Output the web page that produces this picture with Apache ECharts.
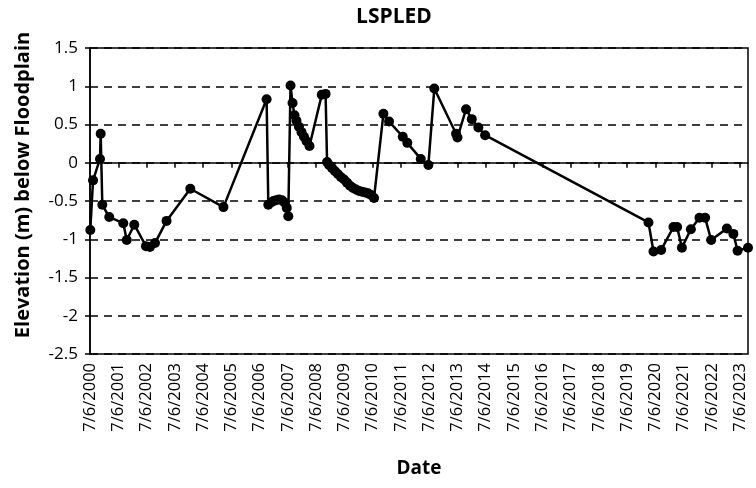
<html>
<head>
    <meta charset="utf-8">
    <script src="https://cdn.jsdelivr.net/npm/echarts@6/dist/echarts.min.js"></script>
</head>
<body style="margin:0">
<div id="main" style="width:756px;height:488px"></div>
<script>
    // sample dates and elevations
    var sampleDates = [
        '2000-07-10', '2000-08-14', '2000-11-12', '2000-11-21', '2000-12-12', '2001-03-12',
        '2001-09-09', '2001-10-24', '2002-01-29', '2002-06-29', '2002-08-19', '2002-10-24',
        '2003-03-22', '2004-01-23', '2005-03-26', '2006-10-05', '2006-10-27', '2006-12-01',
        '2007-01-02', '2007-02-04', '2007-03-14', '2007-04-22', '2007-05-24', '2007-06-22',
        '2007-07-12', '2007-08-10', '2007-09-05', '2007-09-30', '2007-10-26', '2007-11-27',
        '2007-12-30', '2008-01-31', '2008-03-04', '2008-04-11', '2008-09-17', '2008-11-05',
        '2008-11-24', '2008-12-20', '2009-01-28', '2009-03-07', '2009-04-15', '2009-05-24',
        '2009-07-02', '2009-08-09', '2009-09-17', '2009-10-26', '2009-12-03', '2010-01-12',
        '2010-02-19', '2010-03-30', '2010-05-08', '2010-06-15', '2010-07-24', '2010-11-22',
        '2011-02-03', '2011-07-30', '2011-09-27', '2012-03-19', '2012-06-25', '2012-09-10',
        '2013-06-18', '2013-07-06', '2013-10-25', '2014-01-07', '2014-04-02', '2014-06-28',
        '2020-04-08', '2020-06-12', '2020-09-19', '2021-02-25', '2021-04-13', '2021-06-14',
        '2021-10-08', '2022-01-27', '2022-04-10', '2022-06-27', '2023-01-16', '2023-04-10',
        '2023-06-03', '2023-10-16'
    ];
    var elevation = [
        -0.88, -0.23, 0.05, 0.38, -0.55, -0.71,
        -0.79, -1.01, -0.81, -1.09, -1.10, -1.05,
        -0.76, -0.34, -0.58, 0.83, -0.55, -0.52,
        -0.50, -0.49, -0.48, -0.49, -0.52, -0.59,
        -0.70, 1.01, 0.78, 0.62, 0.55, 0.47,
        0.40, 0.34, 0.28, 0.22, 0.89, 0.90,
        0.01, -0.03, -0.07, -0.11, -0.15, -0.19,
        -0.22, -0.26, -0.30, -0.33, -0.35, -0.37,
        -0.38, -0.39, -0.40, -0.42, -0.46, 0.64,
        0.54, 0.34, 0.26, 0.05, -0.03, 0.97,
        0.38, 0.33, 0.70, 0.57, 0.46, 0.36,
        -0.78, -1.16, -1.14, -0.84, -0.84, -1.11,
        -0.87, -0.72, -0.72, -1.01, -0.86, -0.93,
        -1.15, -1.11
    ];
    var axisStart = '2000-07-06'; // first tick, labels every year on 7/6
    var yTicks = [-2.5, -2, -1.5, -1, -0.5, 0, 0.5, 1, 1.5];

    var font = 'Open Sans';
    var dayMs = 86400000;
    var yearMs = 365.25 * dayMs;
    var startMs = Date.parse(axisStart);

    // years since 7/6/2000
    function toYears(s) {
        return (Date.parse(s) - startMs) / yearMs;
    }

    var points = sampleDates.map(function (d, i) {
        return [toYears(d), elevation[i]];
    });

    var chart = echarts.init(document.getElementById('main'));

    var option = {
        backgroundColor: '#fff',
        animation: false,
        title: {
            text: 'LSPLED',
            left: 389,
            textAlign: 'center',
            top: 2,
            textStyle: {
                fontFamily: font,
                fontSize: 21,
                fontWeight: 'bold',
                color: '#000'
            }
        },
        grid: {
            left: 90,
            right: 8,
            top: 48,
            bottom: 134,
            show: true,
            borderColor: '#000',
            borderWidth: 1.5
        },
        xAxis: {
            type: 'value',
            min: 0,
            max: points[points.length - 1][0],
            interval: 1,
            name: 'Date',
            nameLocation: 'middle',
            nameGap: 105,
            nameTextStyle: {
                fontFamily: font,
                fontSize: 19,
                fontWeight: 'bold',
                color: '#000'
            },
            axisLine: {lineStyle: {color: '#000', width: 1.5}},
            axisTick: {show: true, length: 5, lineStyle: {color: '#000', width: 1.5}},
            splitLine: {show: false},
            axisLabel: {
                rotate: 90,
                margin: 9,
                showMaxLabel: false,
                fontFamily: font,
                fontSize: 16.5,
                color: '#000',
                formatter: function (v) {
                    if (Math.abs(v - Math.round(v)) > 1e-6) {
                        return '';
                    }
                    return '7/6/' + (2000 + Math.round(v));
                }
            }
        },
        yAxis: {
            type: 'value',
            min: yTicks[0],
            max: yTicks[yTicks.length - 1],
            interval: 0.5,
            name: 'Elevation (m) below Floodplain',
            nameLocation: 'middle',
            nameGap: 57,
            nameTextStyle: {
                fontFamily: font,
                fontSize: 20,
                fontWeight: 'bold',
                color: '#000',
                padding: [0, 0, 0, 32]
            },
            axisLine: {show: true, lineStyle: {color: '#000', width: 1.5}},
            axisTick: {show: true, length: 5, lineStyle: {color: '#000', width: 1.5}},
            splitLine: {
                show: true,
                lineStyle: {color: '#000', type: [8, 6], width: 1.5}
            },
            axisLabel: {
                margin: 12,
                fontFamily: font,
                fontSize: 17,
                color: '#000'
            }
        },
        series: [{
            type: 'line',
            data: points,
            clip: false,
            symbol: 'circle',
            symbolSize: 10,
            showAllSymbol: true,
            itemStyle: {color: '#000'},
            lineStyle: {color: '#000', width: 2.5}
        }]
    };

    chart.setOption(option);
</script>
</body>
</html>
